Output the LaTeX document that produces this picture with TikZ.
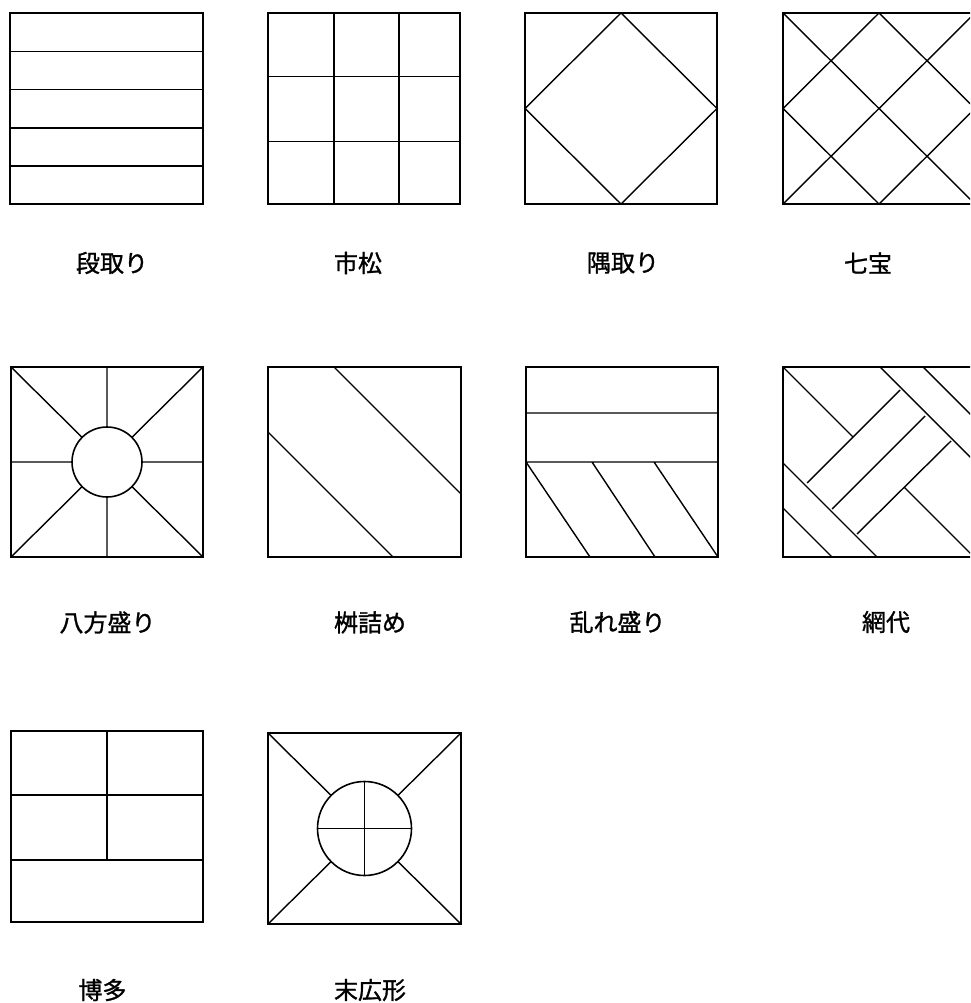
\documentclass[tikz,border=0pt]{standalone}
\usepackage{fontspec}
\newfontfamily\jpfont[FakeBold=1.2]{Noto Sans CJK JP}
\tikzset{
  frame/.style={line width=2pt, line join=miter},
  inner/.style={line width=1.4pt},
  ring/.style={line width=1.6pt, fill=white},
  lbl/.style={font=\jpfont\fontsize{24}{28}\selectfont, inner sep=0pt, anchor=center}
}
\begin{document}
\begin{tikzpicture}[x=1pt,y=-1pt]
\useasboundingbox (0,0) rectangle (970,1003);
\clip (0,0) rectangle (970,1003);
% --- row 1 ---
% 段取り
\draw[inner] (10,51.5) -- (203,51.5) (10,89.5) -- (203,89.5) (10,128) -- (203,128) (10,166) -- (203,166);
\draw[frame] (10,13) rectangle (203,204);
% 市松
\draw[inner] (334,13) -- (334,204) (399,13) -- (399,204) (268,76.5) -- (460,76.5) (268,141.5) -- (460,141.5);
\draw[frame] (268,13) rectangle (460,204);
% 隅取り
\draw[inner] (621,13) -- (717,108.5) -- (621,204) -- (525,108.5) -- cycle;
\draw[frame] (525,13) rectangle (717,204);
% 七宝
\draw[inner] (783,13) -- (975,204) (783,204) -- (975,13)
  (783,108.5) -- (879,13) -- (975,108.5) -- (879,204) -- cycle;
\draw[frame] (783,13) rectangle (975,204);
% --- row 2 ---
% 八方盛り
\draw[inner] (11,367) -- (203,557) (203,367) -- (11,557) (107,367) -- (107,557) (11,462) -- (203,462);
\draw[ring] (107,462) circle (35);
\draw[frame] (11,367) rectangle (203,557);
% 桝詰め
\draw[inner] (334,367) -- (461,494) (268,432) -- (393,557);
\draw[frame] (268,367) rectangle (461,557);
% 乱れ盛り
\draw[inner] (526,413) -- (718,413) (526,462) -- (718,462)
  (526,462) -- (590,557) (592,462) -- (655,557) (654,462) -- (718,557);
\draw[frame] (526,367) rectangle (718,557);
% 網代
\draw[inner] (783,367) -- (853,437) (880,367) -- (975,462) (923,367) -- (975,419)
  (783,463) -- (877,557) (783,508) -- (832,557) (905,488) -- (974,557)
  (807,483) -- (900,390) (832,509) -- (925,416) (857,534) -- (951,441);
\draw[frame] (783,367) rectangle (975,557);
% --- row 3 ---
% 博多
\draw[inner] (11,795) -- (203,795) (11,860) -- (203,860) (107,731) -- (107,860);
\draw[frame] (11,731) rectangle (203,922);
% 末広形
\draw[inner] (268,733) -- (461,924) (461,733) -- (268,924);
\draw[ring] (364.5,828.5) circle (47);
\draw[inner] (364.5,781.5) -- (364.5,875.5) (317.5,828.5) -- (411.5,828.5);
\draw[frame] (268,733) rectangle (461,924);
% --- labels ---
\node[lbl] (l1) at (112,263) {段取り};
\node[lbl] (l2) at (358,263) {市松};
\node[lbl] (l3) at (623,263) {隅取り};
\node[lbl] (l4) at (868,263) {七宝};
\node[lbl] (l5) at (107.5,622.5) {八方盛り};
\node[lbl] (l6) at (370,622.5) {桝詰め};
\node[lbl] (l7) at (617.5,622) {乱れ盛り};
\node[lbl] (l8) at (886,622) {網代};
\node[lbl] (l9) at (102.5,990) {博多};
\node[lbl] (l10) at (370,990) {末広形};
\end{tikzpicture}
\end{document}
